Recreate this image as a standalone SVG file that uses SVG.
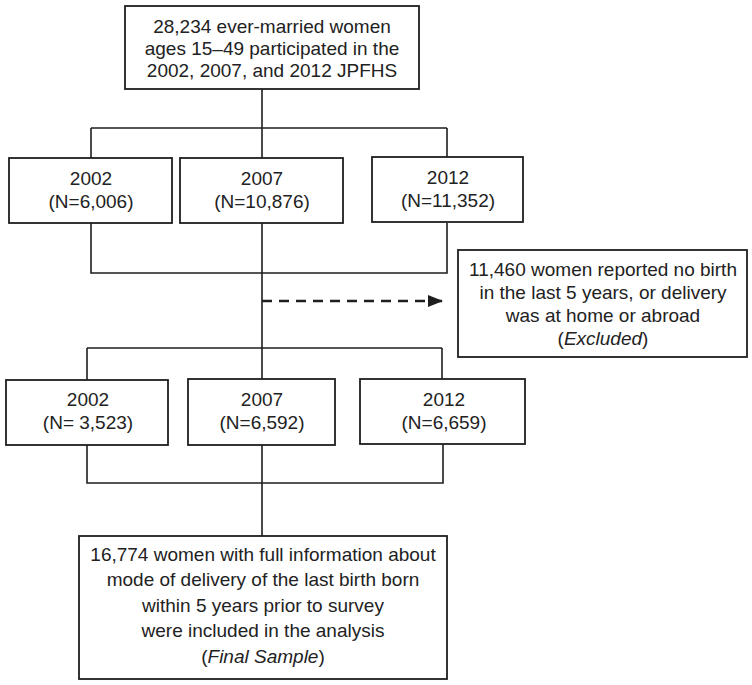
<svg xmlns="http://www.w3.org/2000/svg" width="752" height="685" viewBox="0 0 752 685">
<style>
.box{fill:#fff;stroke:#1e1e1e;stroke-width:1.8}
.ln{fill:none;stroke:#1e1e1e;stroke-width:1.6}
.dash{fill:none;stroke:#1e1e1e;stroke-width:2.4;stroke-dasharray:10 7}
text{font-family:"Liberation Sans",Arial,sans-serif;font-size:19px;fill:#222;text-anchor:middle}
.it{font-style:italic}
</style>
<defs>
<marker id="ah" markerWidth="16" markerHeight="12" refX="15" refY="6" orient="auto" markerUnits="userSpaceOnUse">
<path d="M0,0 L15,6 L0,12 Z" fill="#1e1e1e"/>
</marker>
</defs>
<rect width="752" height="685" fill="#fff"/>
<g id="connectors">
<path class="ln" d="M262,89 V158 M91,128 H447 M91,128 V158 M447,128 V158"/>
<path class="ln" d="M91,223 V273 H447 V223 M262,223 V379"/>
<path class="dash" d="M262,301 H443" marker-end="url(#ah)"/>
<path class="ln" d="M87,348 H442 M87,348 V380 M442,348 V379"/>
<path class="ln" d="M87,445 V483 H443 V444 M262,445 V536"/>
</g>
<g id="n_total">
<rect class="box" x="125" y="6" width="294" height="83"/>
<text x="272" y="33">28,234 ever-married women</text>
<text x="272" y="55">ages 15–49 participated in the</text>
<text x="272" y="77">2002, 2007, and 2012 JPFHS</text>
</g>
<g id="n_2002a">
<rect class="box" x="9" y="158" width="163" height="65"/>
<text x="91" y="185">2002</text>
<text x="91" y="208">(N=6,006)</text>
</g>
<g id="n_2007a">
<rect class="box" x="180" y="158" width="163" height="65"/>
<text x="262" y="185">2007</text>
<text x="262" y="208">(N=10,876)</text>
</g>
<g id="n_2012a">
<rect class="box" x="372" y="157" width="151" height="65"/>
<text x="448" y="184">2012</text>
<text x="448" y="207">(N=11,352)</text>
</g>
<g id="n_excluded">
<rect class="box" x="458" y="250" width="289" height="107"/>
<text x="603" y="276">11,460 women reported no birth</text>
<text x="603" y="299">in the last 5 years, or delivery</text>
<text x="603" y="322">was at home or abroad</text>
<text x="603" y="345">(<tspan class="it">Excluded</tspan>)</text>
</g>
<g id="n_2002b">
<rect class="box" x="6" y="380" width="162" height="65"/>
<text x="88" y="406">2002</text>
<text x="88" y="429">(N= 3,523)</text>
</g>
<g id="n_2007b">
<rect class="box" x="188" y="379" width="147" height="66"/>
<text x="262" y="406">2007</text>
<text x="262" y="429">(N=6,592)</text>
</g>
<g id="n_2012b">
<rect class="box" x="360" y="379" width="165" height="65"/>
<text x="444" y="406">2012</text>
<text x="444" y="429">(N=6,659)</text>
</g>
<g id="n_final">
<rect class="box" x="79" y="536" width="368" height="143"/>
<text x="263" y="561">16,774 women with full information about</text>
<text x="263" y="586">mode of delivery of the last birth born</text>
<text x="263" y="612">within 5 years prior to survey</text>
<text x="263" y="637">were included in the analysis</text>
<text x="263" y="663">(<tspan class="it">Final Sample</tspan>)</text>
</g>
</svg>
